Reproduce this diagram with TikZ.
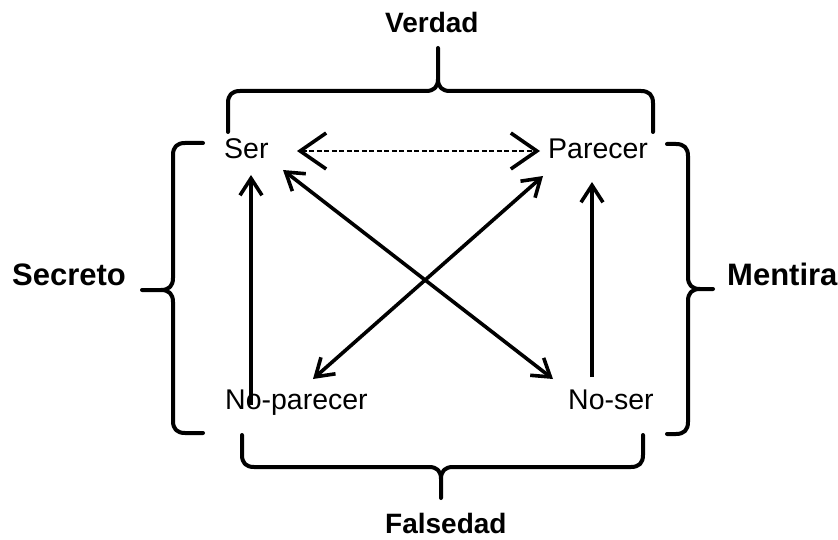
\documentclass[tikz,border=0pt]{standalone}
\usepackage{fontspec}
\setmainfont{Liberation Sans}
\usetikzlibrary{arrows.meta}

\tikzset{
  term/.style={inner sep=0pt, anchor=base west, font=\fontsize{28.5}{30}\selectfont},
  heading/.style={inner sep=0pt, anchor=base west, font=\fontsize{28}{30}\selectfont\bfseries},
  sidehead/.style={inner sep=0pt, anchor=base west, font=\fontsize{31}{33}\selectfont\bfseries},
  brace/.style={line width=4pt, line cap=round, line join=round},
  link/.style={line width=3.6pt, {Straight Barb[length=17pt,width=22pt]}-{Straight Barb[length=17pt,width=22pt]}},
  uplink/.style={line width=3.6pt, -{Straight Barb[length=17pt,width=22pt]}},
  mirror/.style={line width=1.5pt, dash pattern=on 5pt off 2.5pt,
    {Straight Barb[length=26pt,width=36pt,line width=3.6pt]}-{Straight Barb[length=26pt,width=36pt,line width=3.6pt]}}
}

\begin{document}
\begin{tikzpicture}[x=1pt,y=-1pt]
\useasboundingbox (0,0) rectangle (838,540);

% the four terms of the square
\node[term] (ser) at (224,159) {Ser};
\node[term] (parecer) at (548,159) {Parecer};
\node[term] (noparecer) at (225,409) {No-parecer};
\node[term] (noser) at (568,409) {No-ser};

% names of the four sides
\node[heading] (verdad) at (385,33) {Verdad};
\node[heading] (falsedad) at (385,533) {Falsedad};
\node[sidehead] (secreto) at (12,285) {Secreto};
\node[sidehead] (mentira) at (727,285) {Mentira};

% arrow end points around the terms
\coordinate (serR) at (297,151);
\coordinate (parL) at (540,151);
\coordinate (serD) at (283,170);
\coordinate (serB) at (251,175);
\coordinate (parD) at (543,176);
\coordinate (parB) at (592,182);
\coordinate (npT) at (251,405);
\coordinate (npD) at (313,379);
\coordinate (nsT) at (592,377);
\coordinate (nsD) at (553,379);

% relations
\draw[mirror] (serR) -- (parL);
\draw[link] (serD) -- (nsD);
\draw[link] (parD) -- (npD);
\draw[uplink] (npT) -- (serB);
\draw[uplink] (nsT) -- (parB);

% top brace
\draw[brace] (228,132) -- (228,103) .. controls (228,95) and (232,91) .. (240,91)
  -- (426,91) .. controls (434,91) and (438,87) .. (438,79) -- (438,48)
  -- (438,79) .. controls (438,87) and (442,91) .. (450,91)
  -- (641,91) .. controls (649,91) and (653,95) .. (653,103) -- (653,132);
% bottom brace
\draw[brace] (242,435) -- (242,455) .. controls (242,463) and (246,467) .. (254,467)
  -- (429,467) .. controls (437,467) and (441,471) .. (441,479) -- (441,498)
  -- (441,479) .. controls (441,471) and (445,467) .. (453,467)
  -- (631,467) .. controls (639,467) and (643,463) .. (643,455) -- (643,435);
% left brace
\draw[brace] (203,143) -- (185,143) .. controls (177,143) and (173,147) .. (173,155)
  -- (173,278) .. controls (173,286) and (169,290) .. (161,290) -- (142,290)
  -- (161,290) .. controls (169,290) and (173,294) .. (173,302)
  -- (173,421) .. controls (173,429) and (177,433) .. (185,433) -- (203,433);
% right brace
\draw[brace] (667,144) -- (676,144) .. controls (684,144) and (688,148) .. (688,156)
  -- (688,277) .. controls (688,285) and (692,289) .. (700,289) -- (713,289)
  -- (700,289) .. controls (692,289) and (688,293) .. (688,301)
  -- (688,422) .. controls (688,430) and (684,434) .. (676,434) -- (667,434);
\end{tikzpicture}
\end{document}
